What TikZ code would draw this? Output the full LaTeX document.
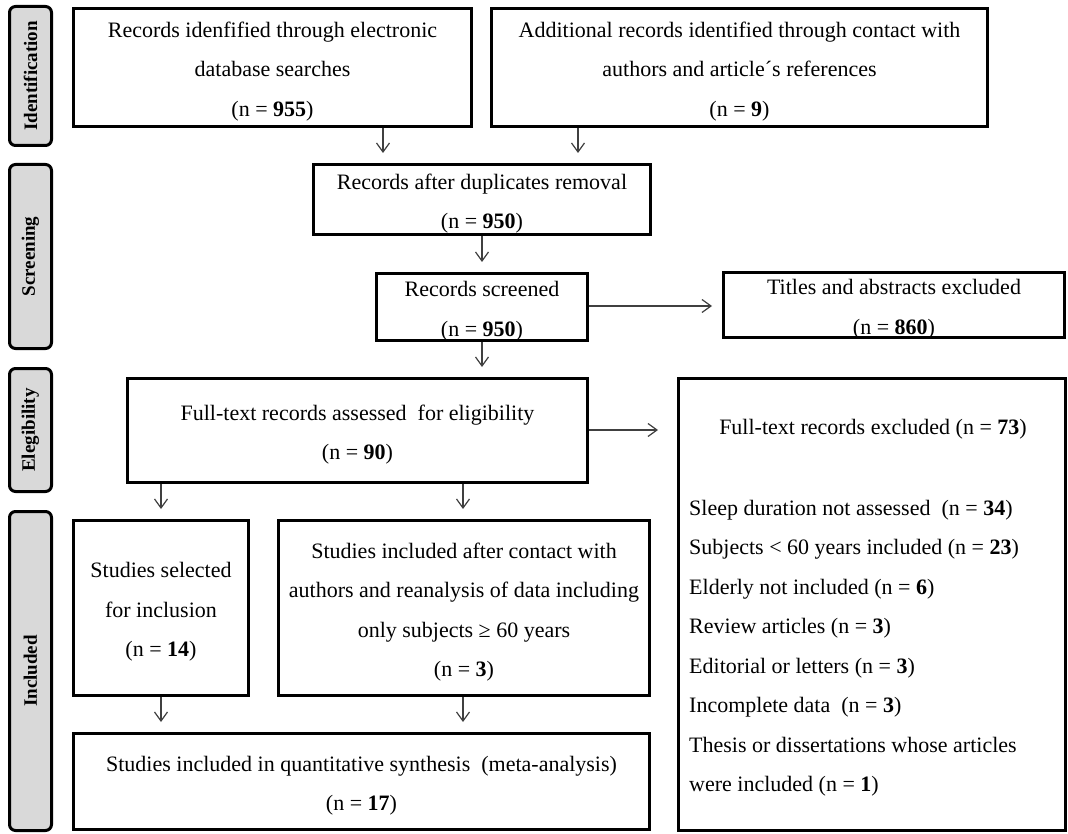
\documentclass[tikz,border=0pt]{standalone}
\usepackage{fontspec}
\setmainfont{Liberation Serif}
\usetikzlibrary{arrows.meta}
\begin{document}
\begin{tikzpicture}[x=1pt,y=-1pt,
  box/.style={draw=black, line width=3pt, fill=white, inner sep=0pt},
  side/.style={draw=black, line width=3pt, fill=gray!30, rounded corners=6pt, inner sep=0pt,
    rotate=90, font=\fontsize{19}{22}\selectfont\bfseries},
  arr/.style={draw=black!75, line width=1.2pt, -{Straight Barb[length=9pt,width=13pt]}, shorten >=10pt},
  txt/.style={inner sep=0pt, align=center, font=\fontsize{22}{39.5}\selectfont},
  boxtext/.style={txt, yshift=-4pt}]
\useasboundingbox (0,0) rectangle (1068,834);
% side labels
\node[side, minimum width=139pt, minimum height=42pt] (s1) at (30.5,76) {Identification};
\node[side, minimum width=184pt, minimum height=42pt] (s2) at (30.5,256.5) {Screening};
\node[side, minimum width=123pt, minimum height=42pt] (s3) at (30.5,430) {Elegibility};
\node[side, minimum width=319pt, minimum height=42pt] (s4) at (30.5,671) {Included};
% boxes
\node[box, minimum width=398pt, minimum height=118pt] (b1) at (272.5,67.5) {};
\node[box, minimum width=496pt, minimum height=118pt] (b2) at (739.5,67.5) {};
\node[box, minimum width=337pt, minimum height=70pt] (b3) at (482,199.5) {};
\node[box, minimum width=211pt, minimum height=67pt] (b4) at (482,307) {};
\node[box, minimum width=341pt, minimum height=65pt] (b5) at (894,305) {};
\node[box, minimum width=460pt, minimum height=104pt] (b6) at (357.5,430.5) {};
\node[box, minimum width=387pt, minimum height=452pt] (b7) at (872,604.5) {};
\node[box, minimum width=175pt, minimum height=175pt] (b8) at (161,608) {};
\node[box, minimum width=371pt, minimum height=175pt] (b9) at (464,608) {};
\node[box, minimum width=576pt, minimum height=96pt] (b10) at (361.5,781.5) {};
% box texts
\node[boxtext] (t1) at (b1) {Records idenfified through electronic\\ database searches\\ (n = \textbf{955})};
\node[boxtext] (t2) at (b2) {Additional records identified through contact with\\ authors and article´s references\\ (n = \textbf{9})};
\node[boxtext] (t3) at (b3) {Records after duplicates removal\\ (n = \textbf{950})};
\node[boxtext] (t4) at (b4) {Records screened\\ (n = \textbf{950})};
\node[boxtext] (t5) at (b5) {Titles and abstracts excluded\\ (n = \textbf{860})};
\node[boxtext] (t6) at (b6) {Full-text records assessed\ \ for eligibility\\ (n = \textbf{90})};
\node[boxtext] (t8) at (b8) {Studies selected\\ for inclusion\\ (n = \textbf{14})};
\node[boxtext] (t9) at (b9) {Studies included after contact with\\ authors and reanalysis of data including\\ only subjects ≥ 60 years\\ (n = \textbf{3})};
\node[boxtext] (t10) at (b10) {Studies included in quantitative synthesis\ \ (meta-analysis)\\ (n = \textbf{17})};
% excluded list
\node[txt] (h7) at (873,429) {Full-text records excluded (n = \textbf{73})};
\node[txt, align=left, anchor=north west] (l7) at (689,500)
  {Sleep duration not assessed\ \ (n = \textbf{34})\\
   Subjects < 60 years included (n = \textbf{23})\\
   Elderly not included (n = \textbf{6})\\
   Review articles (n = \textbf{3})\\
   Editorial or letters (n = \textbf{3})\\
   Incomplete data\ \ (n = \textbf{3})\\
   Thesis or dissertations whose articles\\
   were included (n = \textbf{1})};
% arrow x positions
\coordinate (xa) at (383,0);
\coordinate (xb) at (578,0);
\coordinate (xc) at (482,0);
\coordinate (xd) at (161,0);
\coordinate (xe) at (463,0);
\coordinate (ya) at (0,306);
\coordinate (yb) at (0,430);
% arrows
\draw[arr] (xa |- b1.south) -- (xa |- b3.north);
\draw[arr] (xb |- b2.south) -- (xb |- b3.north);
\draw[arr] (xc |- b3.south) -- (xc |- b4.north);
\draw[arr] (b4.east |- ya) -- (b5.west |- ya);
\draw[arr] (xc |- b4.south) -- (xc |- b6.north);
\draw[arr, shorten >=19pt] (b6.east |- yb) -- (b7.west |- yb);
\draw[arr] (xd |- b6.south) -- (xd |- b8.north);
\draw[arr] (xe |- b6.south) -- (xe |- b9.north);
\draw[arr] (xd |- b8.south) -- (xd |- b10.north);
\draw[arr] (xe |- b9.south) -- (xe |- b10.north);
\end{tikzpicture}
\end{document}
